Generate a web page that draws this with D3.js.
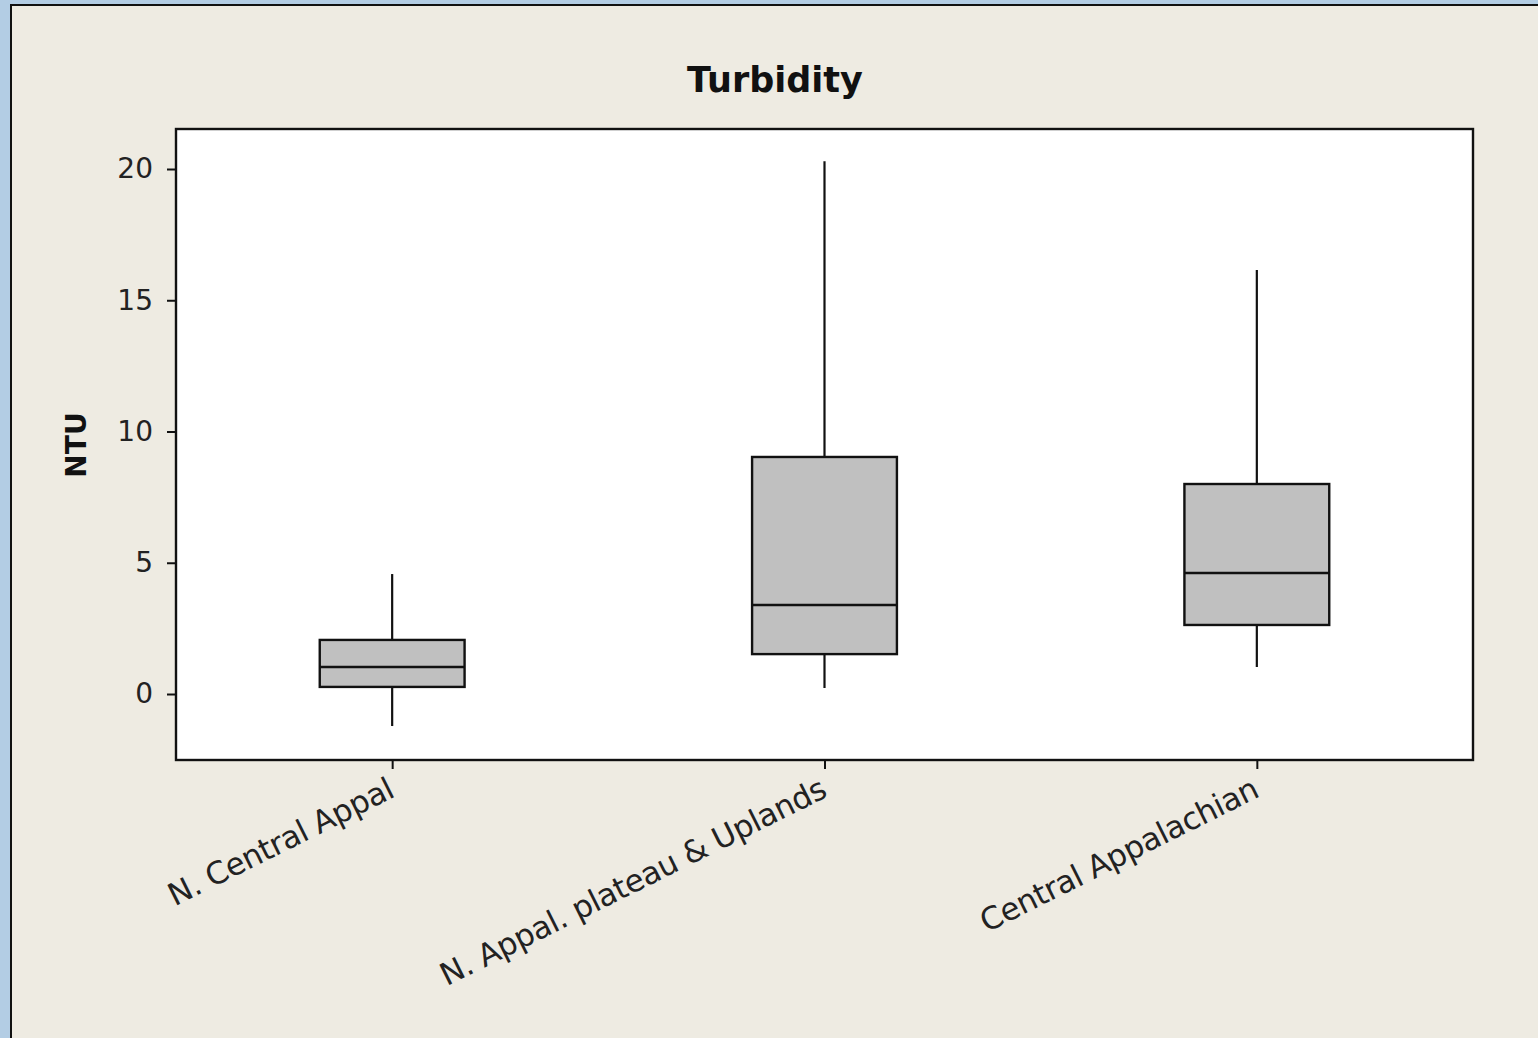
<!DOCTYPE html>
<html><head><meta charset="utf-8">
<script src="https://cdn.jsdelivr.net/npm/d3@7"></script>
<style>html,body{margin:0;padding:0;background:#b3cde4;overflow:hidden}</style>
</head><body>
<svg id="c" width="1538" height="1038"></svg>
<script>
const categories = ["N. Central Appal", "N. Appal. plateau & Uplands", "Central Appalachian"];
const whiskerLow = [-1.22, 0.23, 1.03];
const q1 = [0.27, 1.52, 2.63];
const median = [1.03, 3.39, 4.61];
const q3 = [2.06, 9.03, 8.0];
const whiskerHigh = [4.57, 20.3, 16.15];
const yTicks = [0, 5, 10, 15, 20];

const svg = d3.select("#c");
svg.append("rect").attr("x",0).attr("y",0).attr("width",1538).attr("height",1038).attr("fill","#b3cde4");
svg.append("rect").attr("x",11).attr("y",5).attr("width",1540).attr("height",1040).attr("fill","#eeebe2").attr("stroke","#111").attr("stroke-width",2);

const L=176,R=1473,T=129,B=760;
const y = d3.scaleLinear().domain([-2.514, 21.524]).range([B,T]);
const x = d3.scalePoint().domain(categories).range([L,R]).padding(0.5);
const bw = x.step()*0.335;

svg.append("rect").attr("x",L).attr("y",T).attr("width",R-L).attr("height",B-T).attr("fill","#fff");

const data = categories.map((c,i)=>({c,lo:whiskerLow[i],q1:q1[i],md:median[i],q3:q3[i],hi:whiskerHigh[i]}));
const g = svg.append("g");
data.forEach(d=>{
  const cx = x(d.c);
  g.append("line").attr("x1",cx).attr("x2",cx).attr("y1",y(d.hi)).attr("y2",y(d.lo)).attr("stroke","#111").attr("stroke-width",2.2);
  g.append("rect").attr("x",cx-bw/2).attr("width",bw).attr("y",y(d.q3)).attr("height",y(d.q1)-y(d.q3))
    .attr("fill","#c0c0c0").attr("stroke","#111").attr("stroke-width",2.4);
  g.append("line").attr("x1",cx-bw/2).attr("x2",cx+bw/2).attr("y1",y(d.md)).attr("y2",y(d.md)).attr("stroke","#111").attr("stroke-width",2.4);
});

svg.append("rect").attr("x",L).attr("y",T).attr("width",R-L).attr("height",B-T).attr("fill","none").attr("stroke","#111").attr("stroke-width",2.4);

const ya = svg.append("g").attr("transform",`translate(${L},0)`)
  .call(d3.axisLeft(y).tickValues(yTicks).tickSize(9).tickPadding(14).tickFormat(d3.format("d")));
ya.select(".domain").remove();
ya.selectAll("line").attr("stroke","#111").attr("stroke-width",2);
ya.selectAll("text").attr("font-family","DejaVu Sans").attr("font-size",28).attr("fill","#222");

const xa = svg.append("g").attr("transform",`translate(0,${B})`)
  .call(d3.axisBottom(x).tickSize(9).tickFormat(""));
xa.select(".domain").remove();
xa.selectAll("line").attr("stroke","#111").attr("stroke-width",2);

svg.append("g").selectAll("text").data(categories).join("text")
  .attr("transform",d=>`translate(${x(d)+4},${B+36}) rotate(-26.5)`)
  .attr("text-anchor","end").attr("font-family","DejaVu Sans").attr("font-size",31).attr("fill","#222")
  .attr("letter-spacing",-0.4)
  .text(d=>d);

svg.append("text").attr("x",775).attr("y",92).attr("text-anchor","middle")
  .attr("font-family","DejaVu Sans").attr("font-weight","bold").attr("font-size",35).attr("fill","#111").text("Turbidity");

svg.append("text").attr("transform","translate(86,445) rotate(-90)").attr("text-anchor","middle")
  .attr("font-family","DejaVu Sans").attr("font-weight","bold").attr("font-size",28).attr("fill","#111").text("NTU");
</script>
</body></html>
